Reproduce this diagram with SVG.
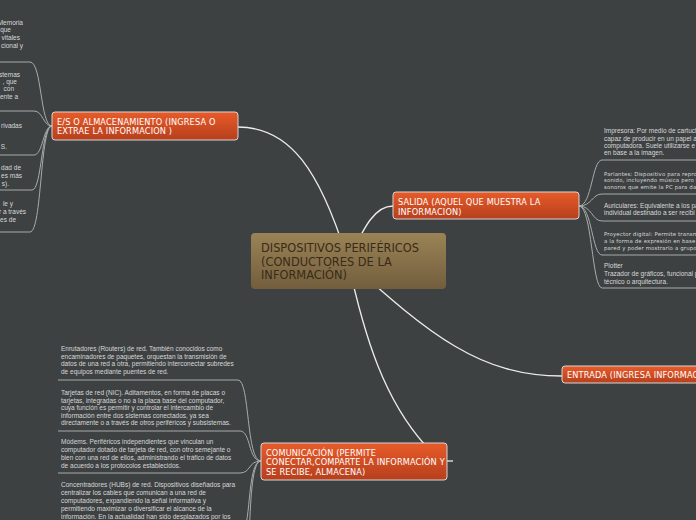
<svg xmlns="http://www.w3.org/2000/svg" width="696" height="520" viewBox="0 0 696 520">
<defs>
<linearGradient id="og" x1="0" y1="0" x2="0" y2="1"><stop offset="0" stop-color="#e85b29"/><stop offset="1" stop-color="#b63f1d"/></linearGradient>
<linearGradient id="cg" x1="0" y1="0" x2="0" y2="1"><stop offset="0" stop-color="#9a8356"/><stop offset="1" stop-color="#725e3d"/></linearGradient>
<style>
.main{fill:none;stroke:#ececec;stroke-width:1.3}
.sub{fill:none;stroke:#a9abab;stroke-width:1}
.node{fill:url(#og);stroke:#d6d6d6;stroke-width:1}
.nt{font-family:"DejaVu Sans",Verdana,sans-serif;font-size:8.2px;letter-spacing:0.15px;fill:#ffffff}
.ct{font-family:"DejaVu Sans",Verdana,sans-serif;font-size:11.4px;fill:#3a2a18}
.t{font-family:"Liberation Sans",Arial,sans-serif;font-size:6.5px;fill:#d8d8d8}
.tv{font-family:"DejaVu Sans",Verdana,sans-serif;font-size:5.4px;letter-spacing:0.15px;fill:#d8d8d8}
</style>
</defs>
<rect width="696" height="520" fill="#3d4142"/>
<g id="connectors">
<path class="main" d="M348 261 C320 170 290 127 238 127"/>
<path class="main" d="M348 261 C365 225 375 206 393 206"/>
<path class="main" d="M348 261 C430 335 480 376 562 376"/>
<path class="main" d="M348 261 C365 340 385 400 425 445"/>
<path class="main" d="M447 461 H453"/>
<path class="sub" d="M52 126 C40 126 42 62 30 62 H0"/>
<path class="sub" d="M52 126 C43 126 43 111 34 111 H0"/>
<path class="sub" d="M52 126 C43 126 43 155 34 155 H0"/>
<path class="sub" d="M52 126 C41 126 42 190 32 190 H0"/>
<path class="sub" d="M52 126 C40 126 42 232 30 232 H0"/>
<path class="sub" d="M579 206 C592 206 592 160 602 160 H696"/>
<path class="sub" d="M579 206 C592 206 592 194 602 194 H696"/>
<path class="sub" d="M579 206 C592 206 592 221 602 221 H696"/>
<path class="sub" d="M579 206 C592 206 592 255 602 255 H696"/>
<path class="sub" d="M579 206 C592 206 592 288 602 288 H696"/>
<path class="sub" d="M261 461 C246 461 250 380 238 380 H58"/>
<path class="sub" d="M261 461 C248 461 251 431 240 431 H58"/>
<path class="sub" d="M261 461 C248 461 251 473 240 473 H58"/>
<path class="sub" d="M261 461 C246 461 252 535 240 535 H58"/>
<path class="sub" d="M261 461 C244 461 254 600 240 600 H58"/>
</g>
<g id="central">
<rect x="251" y="233" width="195" height="56" rx="4" fill="url(#cg)"/>
<text class="ct" x="261" y="252">DISPOSITIVOS PERIFÉRICOS</text>
<text class="ct" x="261" y="266">(CONDUCTORES DE LA</text>
<text class="ct" x="261" y="279">INFORMACIÓN)</text>
</g>
<g id="es">
<rect class="node" x="52" y="112" width="186" height="28" rx="3"/>
<text class="nt" x="57" y="125">E/S O ALMACENAMIENTO (INGRESA O</text>
<text class="nt" x="57" y="134">EXTRAE LA INFORMACION )</text>
</g>
<g id="salida">
<rect class="node" x="393" y="192" width="186" height="27" rx="3"/>
<text class="nt" x="398" y="205">SALIDA (AQUEL QUE MUESTRA LA</text>
<text class="nt" x="398" y="215">INFORMACION)</text>
</g>
<g id="entrada">
<rect class="node" x="562" y="366" width="160" height="17" rx="3"/>
<text class="nt" x="567" y="378">ENTRADA (INGRESA INFORMAC</text>
</g>
<g id="comunicacion">
<rect class="node" x="261" y="443" width="186" height="37" rx="3"/>
<text class="nt" x="266" y="456">COMUNICACIÓN (PERMITE</text>
<text class="nt" x="266" y="465">CONECTAR,COMPARTE LA INFORMACIÓN Y</text>
<text class="nt" x="266" y="475">SE RECIBE, ALMACENA)</text>
</g>
<g id="es-items" text-anchor="end">
<text class="t" x="23" y="25">Memoria</text>
<text class="t" x="11" y="32">que</text>
<text class="t" x="20" y="40">vitales</text>
<text class="t" x="23" y="48">cional y</text>
<text class="t" x="20" y="77">stemas</text>
<text class="t" x="17" y="84">, que</text>
<text class="t" x="14" y="91">con</text>
<text class="t" x="18" y="99">ente a</text>
<text class="t" x="22" y="128">rivadas</text>
<text class="t" x="7" y="149">S.</text>
<text class="t" x="21" y="170">dad de</text>
<text class="t" x="22" y="178">es más</text>
<text class="t" x="9" y="186">s).</text>
<text class="t" x="13" y="206">le y</text>
<text class="t" x="26" y="214">r a través</text>
<text class="t" x="16" y="222">es de</text>
</g>
<g id="salida-items">
<text class="t" x="604" y="133">Impresora: Por medio de cartuch</text>
<text class="t" x="604" y="141">capaz de producir en un papel a</text>
<text class="t" x="604" y="148">computadora. Suele utilizarse e</text>
<text class="t" x="604" y="155">en base a la imagen.</text>
<text class="tv" x="604" y="176">Parlantes: Dispositivo para repro</text>
<text class="tv" x="604" y="182">sonido, incluyendo música pero ta</text>
<text class="tv" x="604" y="189">sonoros que emite la PC para dar</text>
<text class="t" x="604" y="208">Auriculares: Equivalente a los pa</text>
<text class="t" x="604" y="215">individual destinado a ser recibi</text>
<text class="tv" x="604" y="236">Proyector digital: Permite transm</text>
<text class="tv" x="604" y="243">a la forma de expresión en base a</text>
<text class="tv" x="604" y="250">pared y poder mostrarlo a grupos</text>
<text class="t" x="604" y="268">Plotter</text>
<text class="t" x="604" y="276">Trazador de gráficos, funcional p</text>
<text class="t" x="604" y="284">técnico o arquitectura.</text>
</g>
<g id="comunicacion-items">
<text class="t" x="61" y="351">Enrutadores (Routers) de red. También conocidos como</text>
<text class="t" x="61" y="359">encaminadores de paquetes, orquestan la transmisión de</text>
<text class="t" x="61" y="366">datos de una red a otra, permitiendo interconectar subredes</text>
<text class="t" x="61" y="374">de equipos mediante puentes de red.</text>
<text class="t" x="61" y="395">Tarjetas de red (NIC). Aditamentos, en forma de placas o</text>
<text class="t" x="61" y="403">tarjetas, integradas o no a la placa base del computador,</text>
<text class="t" x="61" y="410">cuya función es permitir y controlar el intercambio de</text>
<text class="t" x="61" y="418">información entre dos sistemas conectados, ya sea</text>
<text class="t" x="61" y="425">directamente o a través de otros periféricos y subsistemas.</text>
<text class="t" x="61" y="444">Módems. Periféricos independientes que vinculan un</text>
<text class="t" x="61" y="452">computador dotado de tarjeta de red, con otro semejante o</text>
<text class="t" x="61" y="460">bien con una red de ellos, administrando el tráfico de datos</text>
<text class="t" x="61" y="468">de acuerdo a los protocolos establecidos.</text>
<text class="t" x="61" y="487">Concentradores (HUBs) de red. Dispositivos diseñados para</text>
<text class="t" x="61" y="495">centralizar los cables que comunican a una red de</text>
<text class="t" x="61" y="503">computadores, expandiendo la señal informativa y</text>
<text class="t" x="61" y="511">permitiendo maximizar o diversificar el alcance de la</text>
<text class="t" x="61" y="519">información. En la actualidad han sido desplazados por los</text>
</g>
</svg>
